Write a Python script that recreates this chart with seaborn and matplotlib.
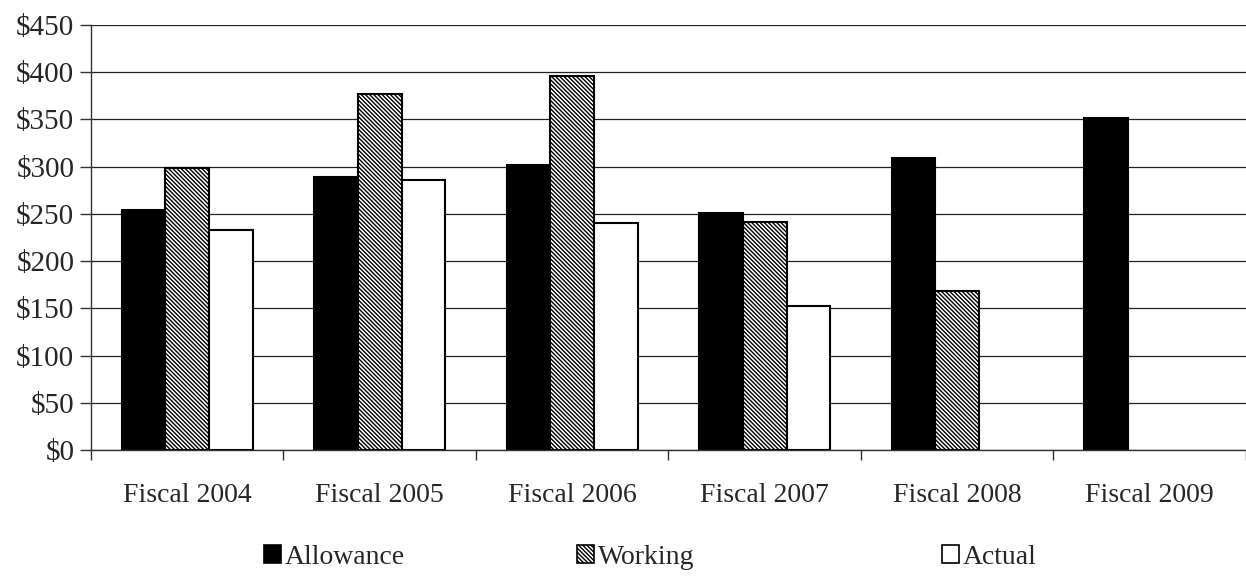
import matplotlib
matplotlib.use("Agg")
import matplotlib.pyplot as plt
from matplotlib.patches import Patch
from matplotlib.ticker import StrMethodFormatter, FixedLocator
import seaborn as sns
import pandas as pd
import numpy as np

years = ["Fiscal 2004", "Fiscal 2005", "Fiscal 2006", "Fiscal 2007", "Fiscal 2008", "Fiscal 2009"]
allowance = [254, 289, 302, 251, 309, 351]
working = [299, 377, 396, 241, 168, np.nan]
actual = [233, 286, 240, 152, np.nan, np.nan]
series = ["Allowance", "Working", "Actual"]

df = pd.DataFrame({
    "year": years * 3,
    "series": [s for s in series for _ in years],
    "value": allowance + working + actual,
}).dropna()

sns.set_style("white")
plt.rcParams["font.family"] = ["Liberation Serif", "DejaVu Serif"]
plt.rcParams["hatch.linewidth"] = 1.0

fig = plt.figure(figsize=(12.46, 5.77), dpi=100)
ax = fig.add_axes([0.073, 0.22, 0.927, 0.737])

ax.set_axisbelow(True)
ax.yaxis.grid(True, color="#222222", linewidth=0.9)

sns.barplot(data=df, x="year", y="value", hue="series", order=years, hue_order=series,
            palette=["black", "white", "white"], width=0.68, edgecolor="black",
            linewidth=1.5, saturation=1, errorbar=None, legend=False, ax=ax)

hatch_w = "\\" * 8
hatches = ["", hatch_w, ""]
for cont, h in zip(ax.containers, hatches):
    for bar in cont:
        bar.set_hatch(h)

ax.set_ylim(0, 450)
ax.set_xlim(-0.5, 5.5)
ax.set_yticks(range(0, 451, 50))
ax.yaxis.set_major_formatter(StrMethodFormatter("${x:,.0f}"))
ax.xaxis.set_minor_locator(FixedLocator(np.arange(-0.5, 5.6, 1)))
ax.tick_params(axis="x", which="major", length=0, pad=24, labelsize=20)
ax.tick_params(axis="x", which="minor", length=7, width=1, color="#333333", direction="out", bottom=True)
ax.tick_params(axis="y", length=8, width=1, color="#333333", direction="out", left=True, labelsize=21, pad=4)
ax.set_xlabel("")
ax.set_ylabel("")

for s in ["top", "right"]:
    ax.spines[s].set_visible(False)
for s in ["left", "bottom"]:
    ax.spines[s].set_color("#333333")
    ax.spines[s].set_linewidth(1)

handles = [
    Patch(facecolor="black", edgecolor="black", linewidth=1.2),
    Patch(facecolor="white", edgecolor="black", hatch=hatch_w, linewidth=1.2),
    Patch(facecolor="white", edgecolor="black", linewidth=1.2),
]
# one legend entry per slot, spaced like the original
legend_x = [0.212, 0.463, 0.756]
for h, lab, lx in zip(handles, series, legend_x):
    fig.legend([h], [lab], loc="lower left", bbox_to_anchor=(lx, 0.012),
               frameon=False, fontsize=20, handlelength=0.6, handleheight=0.6,
               handletextpad=0.15, borderpad=0, borderaxespad=0)

fig.savefig("out.png", dpi=100)
